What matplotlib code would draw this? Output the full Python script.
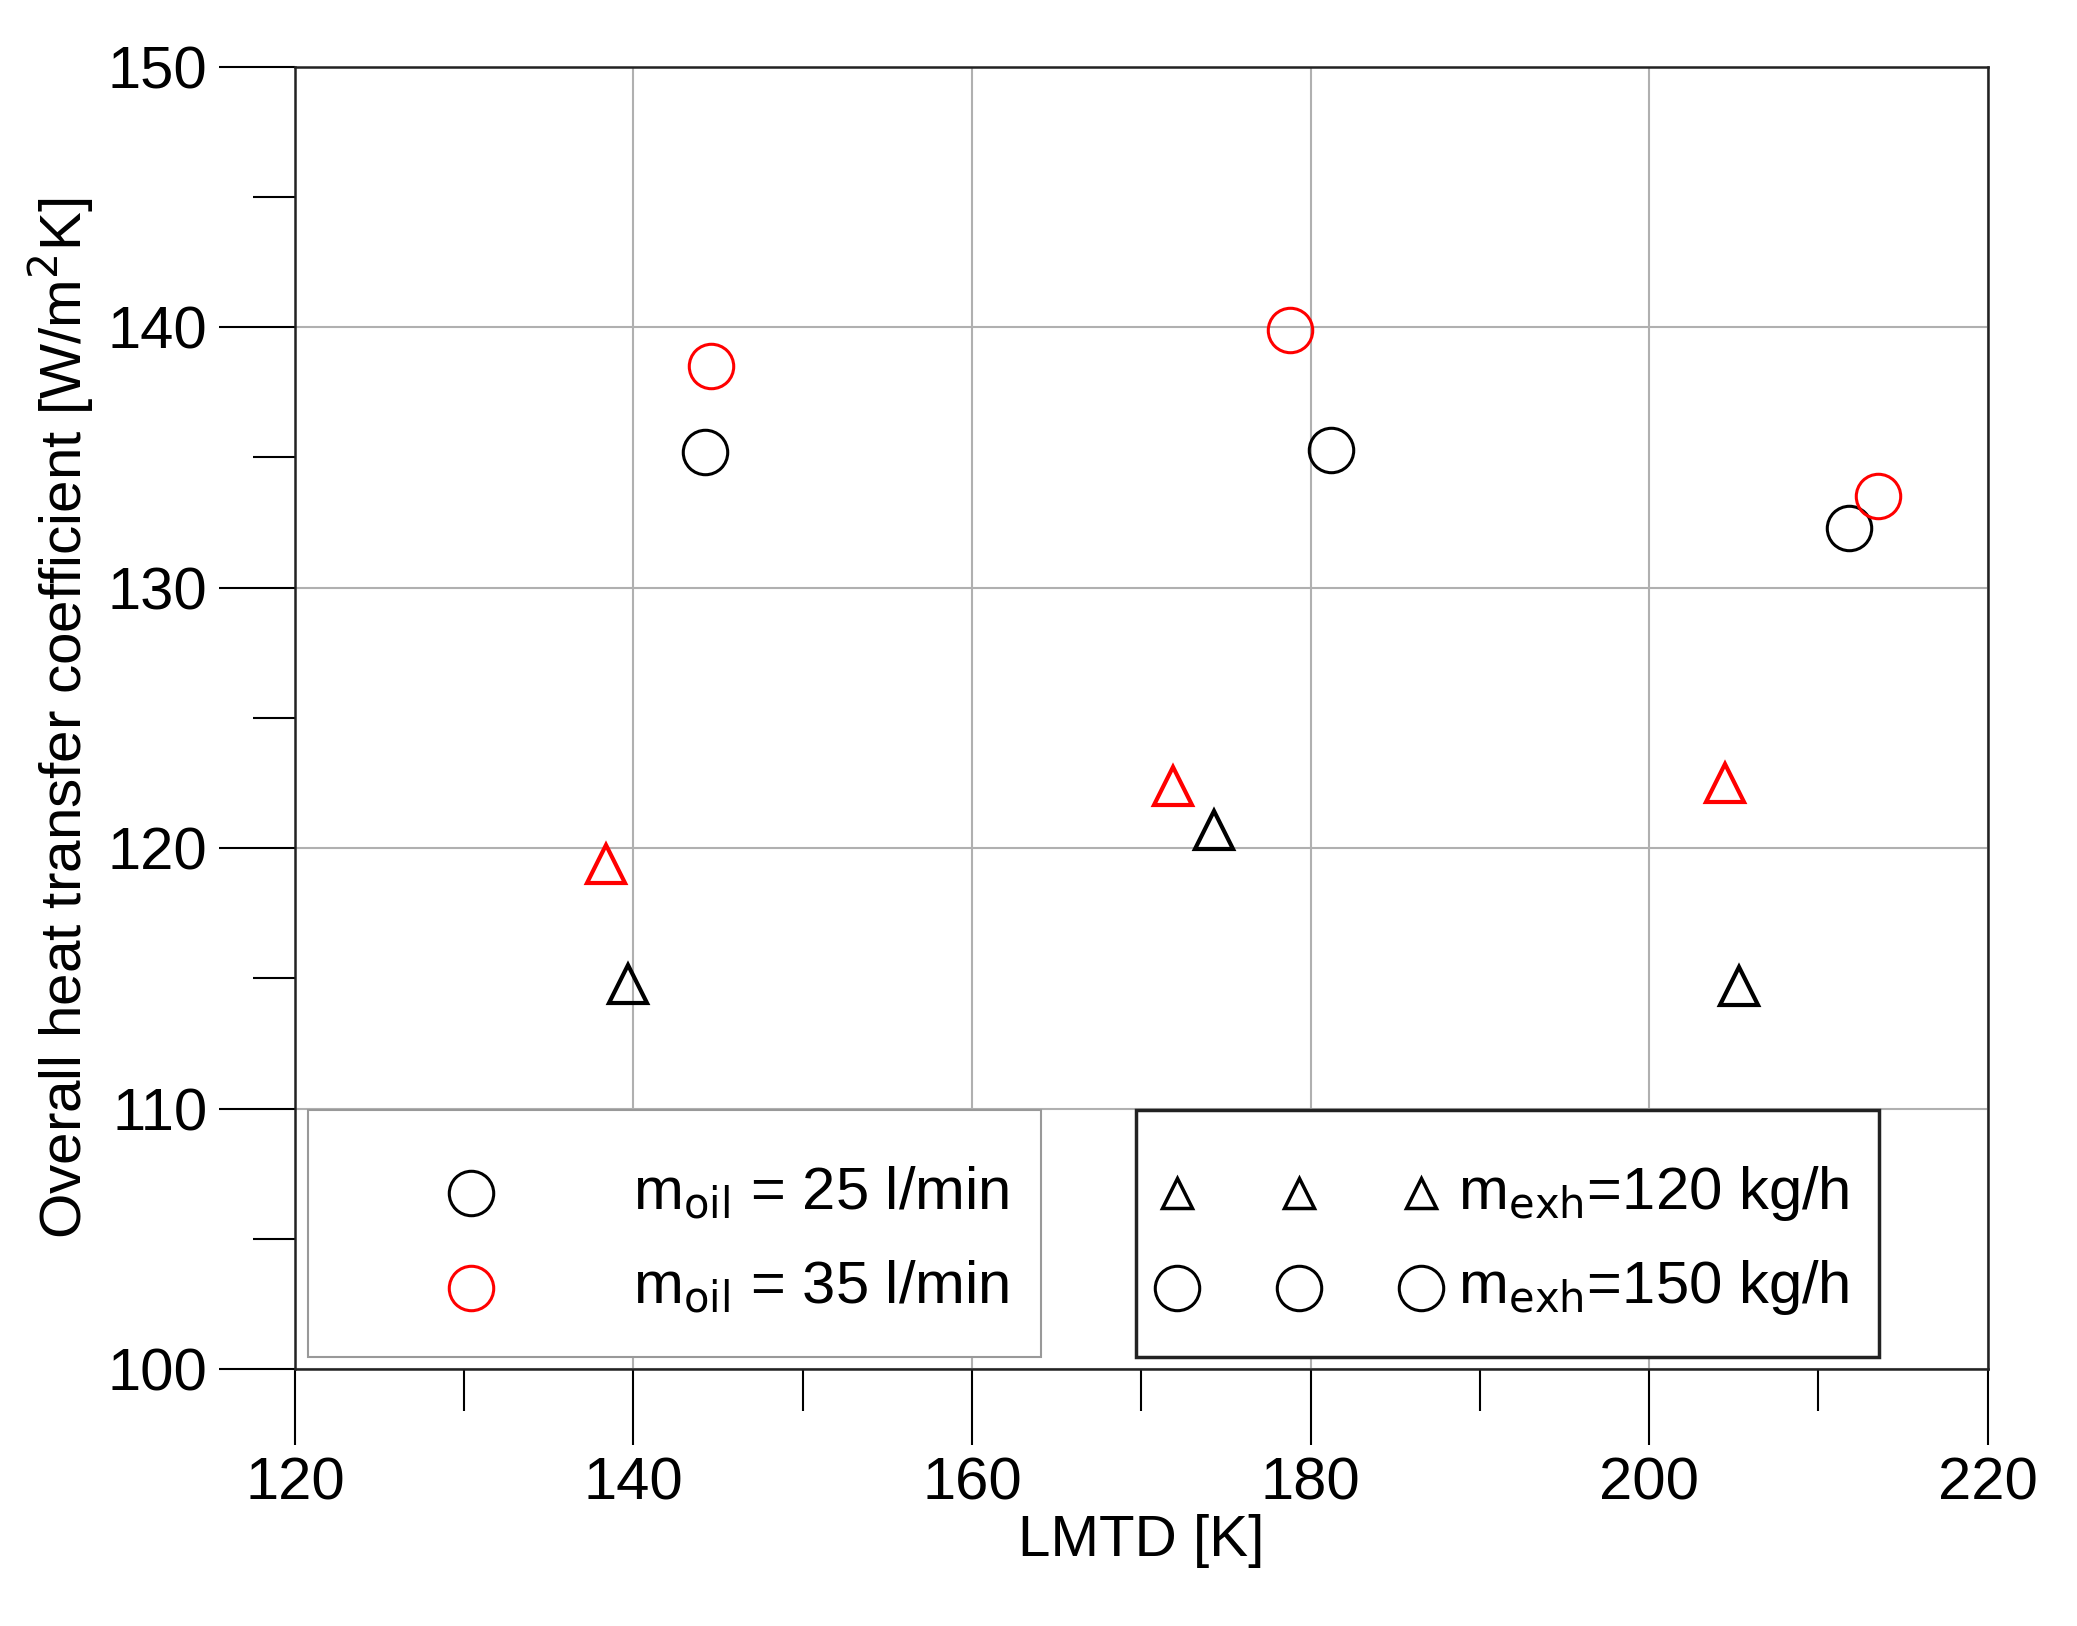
import matplotlib
matplotlib.use("Agg")
import matplotlib.pyplot as plt
from matplotlib.patches import Rectangle

# data
circ_k_x = [144.2, 181.2, 211.8]
circ_k_y = [135.2, 135.3, 132.3]
circ_r_x = [144.6, 178.8, 213.5]
circ_r_y = [138.5, 139.9, 133.5]
tri_k_x = [139.7, 174.3, 205.3]
tri_k_y = [114.8, 120.7, 114.7]
tri_r_x = [138.4, 171.9, 204.5]
tri_r_y = [119.4, 122.4, 122.5]

plt.rcParams["font.family"] = "Liberation Sans"
fig = plt.figure(figsize=(20.77, 16.26), dpi=100)
ax = fig.add_axes([0.142, 0.158, 0.815, 0.801])

cms, tms = 32, 27
ax.plot(circ_k_x, circ_k_y, "o", ms=cms, mfc="none", mec="black", mew=2.2, zorder=5)
ax.plot(circ_r_x, circ_r_y, "o", ms=cms, mfc="none", mec="red", mew=2.2, zorder=5)
ax.plot(tri_k_x, tri_k_y, "^", ms=tms, mfc="none", mec="black", mew=3, zorder=5)
ax.plot(tri_r_x, tri_r_y, "^", ms=tms, mfc="none", mec="red", mew=3, zorder=5)

ax.set_xlim(120, 220)
ax.set_ylim(100, 150)
ax.set_xticks(range(120, 221, 20))
ax.set_yticks(range(100, 151, 10))
ax.set_xticks(range(130, 221, 20), minor=True)
ax.set_yticks(range(105, 151, 10), minor=True)
ax.grid(True, which="major", color="#b0b0b0", lw=1.5)
ax.tick_params(which="major", direction="out", length=55, width=1.5, labelsize=43, pad=8)
ax.tick_params(which="minor", direction="out", length=30, width=1.5)
for s in ax.spines.values():
    s.set_linewidth(1.8)
    s.set_color("#222")
ax.set_xlabel("LMTD [K]", fontsize=42, labelpad=2)
ax.set_ylabel("Overall heat transfer coefficient [W/m$^2$K]", fontsize=42, labelpad=8)

T = ax.transAxes
fs = 43
# left legend box
ax.add_patch(Rectangle((0.0078, 0.0092), 0.433, 0.19, transform=T, fc="white",
                       ec="#999", lw=1.5, zorder=6))
ax.plot([0.104], [0.135], "o", ms=cms, mfc="none", mec="black", mew=2.2, transform=T, zorder=7)
ax.plot([0.104], [0.0624], "o", ms=cms, mfc="none", mec="red", mew=2.2, transform=T, zorder=7)
ax.text(0.2, 0.135, r"m$_{\rm oil}$ = 25 l/min", transform=T, fontsize=fs, va="center", zorder=7)
ax.text(0.2, 0.0624, r"m$_{\rm oil}$ = 35 l/min", transform=T, fontsize=fs, va="center", zorder=7)

# right legend box
ax.add_patch(Rectangle((0.497, 0.0092), 0.439, 0.19, transform=T, fc="white",
                       ec="#222", lw=2.5, zorder=6))
for xm in [0.521, 0.593, 0.665]:
    ax.plot([xm], [0.135], "^", ms=22, mfc="none", mec="black", mew=2.5, transform=T, zorder=7)
    ax.plot([xm], [0.0624], "o", ms=cms, mfc="none", mec="black", mew=2.2, transform=T, zorder=7)
ax.text(0.687, 0.135, r"m$_{\rm exh}$=120 kg/h", transform=T, fontsize=fs, va="center", zorder=7)
ax.text(0.687, 0.0624, r"m$_{\rm exh}$=150 kg/h", transform=T, fontsize=fs, va="center", zorder=7)

fig.savefig("out.png", facecolor="white")
